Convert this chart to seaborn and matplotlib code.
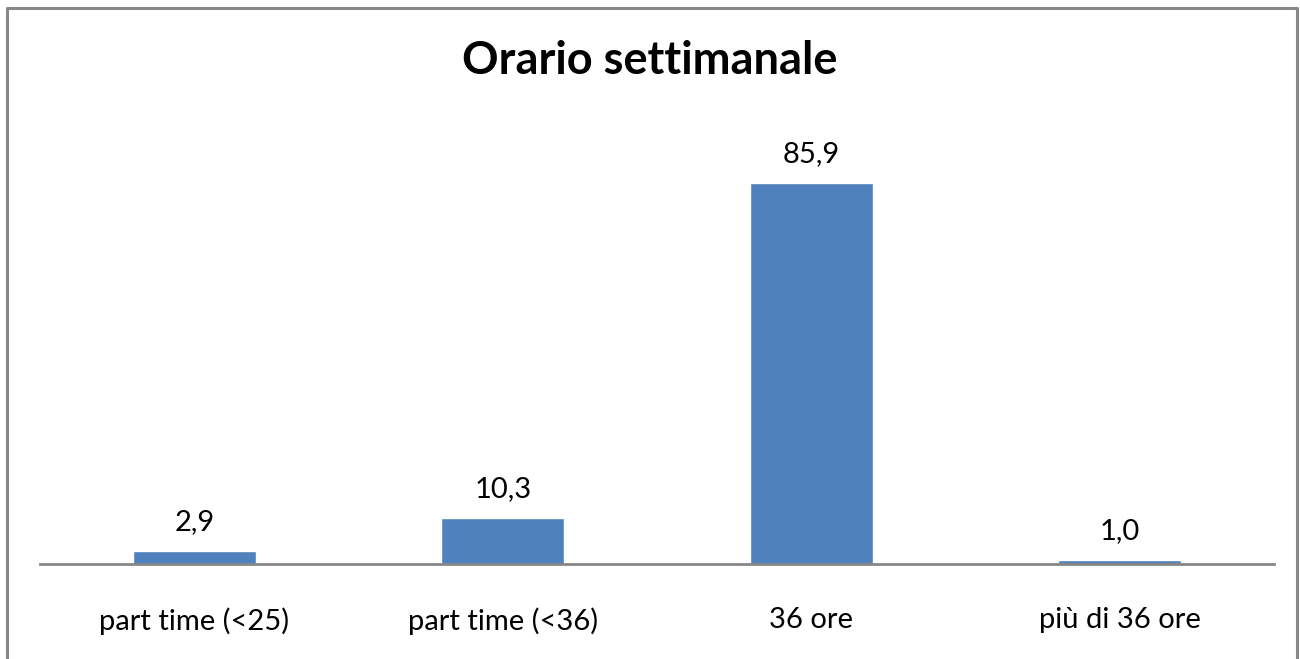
import matplotlib
matplotlib.use("Agg")
import matplotlib.pyplot as plt
import seaborn as sns
import pandas as pd
from matplotlib.lines import Line2D

categories = ["part time (<25)", "part time (<36)", "36 ore", "più di 36 ore"]
values = [2.9, 10.3, 85.9, 1.0]
title = "Orario settimanale"

sns.set_theme(style="white")
plt.rcParams["font.family"] = ["Lato", "DejaVu Sans"]

df = pd.DataFrame({"categoria": categories, "valore": values})

W, H = 1300, 659
fig = plt.figure(figsize=(W / 100, H / 100), dpi=100)
ax = fig.add_axes([40 / W, (H - 564) / H, (1274 - 40) / W, (564 - 120) / H])

sns.barplot(data=df, x="categoria", y="valore", color="#4f81bd", width=0.40,
            saturation=1, ax=ax)

ax.set_ylim(0, 100)
ax.set_xlim(-0.5, len(categories) - 0.5)
ax.set_xlabel("")
ax.set_ylabel("")
ax.set_yticks([])
for s in ["top", "right", "left"]:
    ax.spines[s].set_visible(False)
ax.spines["bottom"].set_color("#868686")
ax.spines["bottom"].set_linewidth(2)
ax.tick_params(axis="x", length=0, pad=31, labelsize=21, colors="black")

for i, v in enumerate(values):
    ax.annotate(f"{v:.1f}".replace(".", ","), (i, v), xytext=(0, 15),
                textcoords="offset points", ha="center", va="baseline",
                fontsize=21, color="black")

fig.text(0.5, (H - 74) / H, title, ha="center", va="baseline",
         fontsize=32.5, fontweight="bold", color="black")

# outer chart frame (left, top, right)
x0, x1 = 6.5 / W, 1297 / W
y0, y1 = -0.01, (H - 8) / H
fig.add_artist(Line2D([x0, x0, x1, x1], [y0, y1, y1, y0],
                      transform=fig.transFigure, color="#888888", lw=2.2))

fig.savefig("out.png", dpi=100)
